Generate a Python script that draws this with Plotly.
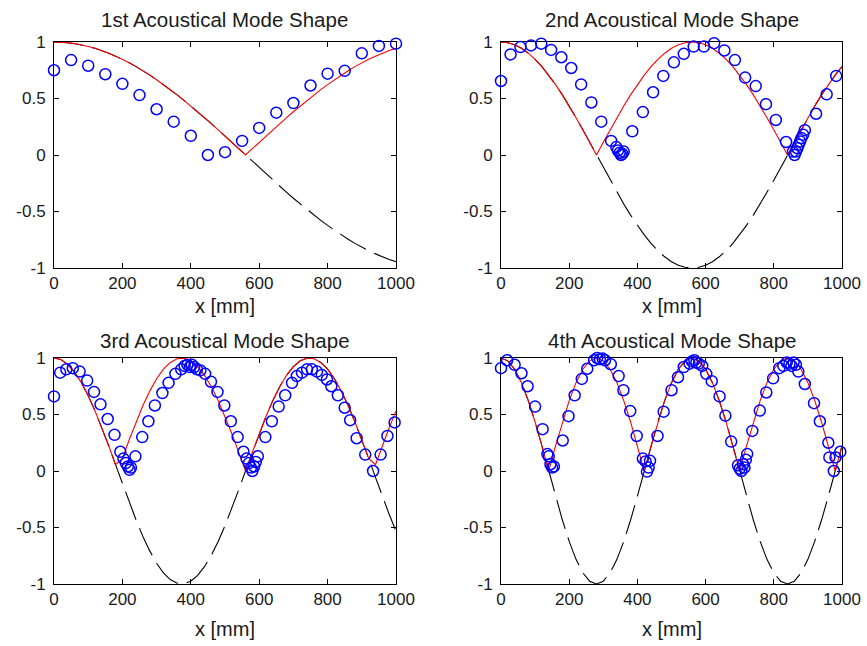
import numpy as np
import plotly.graph_objects as go

# ---------------- data ----------------
titles = ["1st Acoustical Mode Shape", "2nd Acoustical Mode Shape",
          "3rd Acoustical Mode Shape", "4th Acoustical Mode Shape"]
x_label = "x [mm]"
x_tick_vals = [0, 200, 400, 600, 800, 1000]
x_tick_text = ["0", "200", "400", "600", "800", "1000"]
y_tick_vals = [-1, -0.5, 0, 0.5, 1]
y_tick_text = ["-1", "-0.5", "0", "0.5", "1"]

# theoretical mode shapes
x_theory = [0, 20, 40, 60, 80, 100, 120, 140, 160, 180, 200, 220, 240, 260, 280, 300,
            320, 340, 360, 380, 400, 420, 440, 460, 480, 500, 520, 540, 560, 580, 600,
            620, 640, 660, 680, 700, 720, 740, 760, 780, 800, 820, 840, 860, 880, 900,
            920, 940, 960, 980, 1000]
mode1_theory = [1.000, 0.998, 0.994, 0.986, 0.975, 0.961, 0.944, 0.924, 0.901, 0.875,
                0.847, 0.816, 0.782, 0.746, 0.707, 0.666, 0.623, 0.579, 0.532, 0.484,
                0.434, 0.383, 0.330, 0.277, 0.223, 0.167, 0.112, 0.056, 0.000, -0.056,
                -0.112, -0.167, -0.223, -0.277, -0.330, -0.383, -0.434, -0.484, -0.532,
                -0.579, -0.623, -0.666, -0.707, -0.746, -0.782, -0.816, -0.847, -0.875,
                -0.901, -0.924, -0.944]
mode2_theory = [1.000, 0.994, 0.975, 0.944, 0.901, 0.847, 0.782, 0.707, 0.623, 0.532,
                0.434, 0.330, 0.223, 0.112, 0.000, -0.112, -0.223, -0.330, -0.434, -0.532,
                -0.623, -0.707, -0.782, -0.847, -0.901, -0.944, -0.975, -0.994, -1.000,
                -0.994, -0.975, -0.944, -0.901, -0.847, -0.782, -0.707, -0.623, -0.532,
                -0.434, -0.330, -0.223, -0.112, 0.000, 0.112, 0.223, 0.330, 0.434, 0.532,
                0.623, 0.707, 0.782]
mode3_theory = [1.000, 0.986, 0.944, 0.875, 0.782, 0.666, 0.532, 0.383, 0.223, 0.056,
                -0.112, -0.277, -0.434, -0.579, -0.707, -0.816, -0.901, -0.961, -0.994,
                -0.998, -0.975, -0.924, -0.847, -0.746, -0.623, -0.484, -0.330, -0.167,
                0.000, 0.167, 0.330, 0.484, 0.623, 0.746, 0.847, 0.924, 0.975, 0.998,
                0.994, 0.961, 0.901, 0.816, 0.707, 0.579, 0.434, 0.277, 0.112, -0.056,
                -0.223, -0.383, -0.532]
mode4_theory = [1.000, 0.975, 0.901, 0.782, 0.623, 0.434, 0.223, 0.000, -0.223, -0.434,
                -0.623, -0.782, -0.901, -0.975, -1.000, -0.975, -0.901, -0.782, -0.623,
                -0.434, -0.223, 0.000, 0.223, 0.434, 0.623, 0.782, 0.901, 0.975, 1.000,
                0.975, 0.901, 0.782, 0.623, 0.434, 0.223, 0.000, -0.223, -0.434, -0.623,
                -0.782, -0.901, -0.975, -1.000, -0.975, -0.901, -0.782, -0.623, -0.434,
                -0.223, 0.000, 0.223]

# measured values (blue circles)
mode1_x = [0, 50, 100, 150, 200, 250, 300, 350, 400, 450, 500, 550, 600, 650, 700,
           750, 800, 850, 900, 950, 1000]
mode1_y = [0.75, 0.84, 0.79, 0.715, 0.63, 0.53, 0.405, 0.295, 0.17, 0.0, 0.025, 0.125,
           0.24, 0.375, 0.46, 0.615, 0.72, 0.745, 0.90, 0.965, 0.985]

mode2_x = [0, 28, 57, 88, 118, 147, 177, 206, 235, 265, 294, 323, 338, 343, 348, 352,
           356, 360, 385, 416, 446, 476, 507, 536, 565, 595, 625, 655, 686, 716, 747,
           777, 806, 836, 856, 861, 865, 869, 873, 877, 881, 886, 891, 924, 955, 983]
mode2_y = [0.655, 0.89, 0.955, 0.97, 0.985, 0.93, 0.865, 0.77, 0.625, 0.465, 0.295,
           0.125, 0.07, 0.04, 0.02, 0.0, 0.01, 0.03, 0.21, 0.38, 0.555, 0.70, 0.82,
           0.895, 0.96, 0.96, 0.99, 0.925, 0.84, 0.685, 0.61, 0.45, 0.31, 0.115, 0.03,
           0.0, 0.03, 0.06, 0.09, 0.12, 0.15, 0.18, 0.22, 0.365, 0.537, 0.70]

mode3_x = [0, 18, 36, 55, 75, 97, 117, 136, 157, 177, 194, 203, 210, 216, 221, 225,
           238, 258, 276, 295, 317, 335, 355, 372, 382, 390, 397, 403, 410, 418, 428,
           442, 459, 478, 498, 517, 537, 554, 563, 570, 576, 580, 585, 590, 596, 618,
           637, 657, 676, 696, 710, 725, 740, 754, 769, 783, 798, 811, 830, 850, 866,
           885, 910, 933, 955, 975, 996]
mode3_y = [0.66, 0.87, 0.90, 0.91, 0.88, 0.80, 0.70, 0.59, 0.46, 0.32, 0.17, 0.11,
           0.07, 0.04, 0.01, 0.03, 0.13, 0.30, 0.44, 0.58, 0.69, 0.78, 0.86, 0.90, 0.93,
           0.94, 0.92, 0.94, 0.92, 0.90, 0.89, 0.86, 0.79, 0.70, 0.58, 0.44, 0.30, 0.17,
           0.11, 0.07, 0.03, 0.0, 0.04, 0.08, 0.13, 0.30, 0.44, 0.57, 0.67, 0.78, 0.84,
           0.87, 0.90, 0.90, 0.88, 0.85, 0.81, 0.75, 0.67, 0.56, 0.45, 0.29, 0.145, 0.0,
           0.145, 0.31, 0.43]

mode4_x = [0, 18, 40, 60, 78, 100, 122, 136, 140, 145, 150, 155, 181, 198, 216, 237,
           253, 273, 282, 290, 298, 305, 322, 345, 359, 379, 398, 416, 424, 428, 433,
           437, 459, 477, 500, 519, 536, 553, 560, 567, 573, 580, 590, 602, 618, 641,
           658, 675, 695, 700, 705, 710, 714, 718, 722, 737, 759, 778, 798, 816, 828,
           838, 846, 852, 858, 865, 872, 891, 918, 935, 960, 963, 976, 981, 995]
mode4_y = [0.91, 0.98, 0.94, 0.865, 0.75, 0.57, 0.37, 0.15, 0.13, 0.06, 0.03, 0.04,
           0.27, 0.485, 0.67, 0.815, 0.905, 0.98, 1.0, 0.99, 0.995, 0.98, 0.945, 0.84,
           0.715, 0.53, 0.31, 0.11, 0.085, -0.005, 0.03, 0.09, 0.31, 0.525, 0.715, 0.83,
           0.92, 0.95, 0.97, 0.98, 0.96, 0.95, 0.93, 0.86, 0.795, 0.66, 0.49, 0.26, 0.05,
           0.02, 0.0, 0.06, 0.03, 0.1, 0.15, 0.355, 0.535, 0.695, 0.82, 0.91, 0.93, 0.96,
           0.95, 0.93, 0.96, 0.94, 0.88, 0.77, 0.60, 0.44, 0.25, 0.12, 0.0, 0.12, 0.17]

theory = [mode1_theory, mode2_theory, mode3_theory, mode4_theory]
meas_x = [mode1_x, mode2_x, mode3_x, mode4_x]
meas_y = [mode1_y, mode2_y, mode3_y, mode4_y]

# ---------------- layout geometry (window pixels) ----------------
W, H = 867, 646
col_px = [(54, 396), (501, 842)]
row_px = [(42, 268), (358, 584)]
title_y_px = [19, 340]
xlabel_y_px = [306, 629]


def fx(px):
    return px / W


def fy(px):
    return 1 - px / H


FONT = "Liberation Sans, Arial, sans-serif"
TXT = "#1a1a1a"

fig = go.Figure()
layout = dict(width=W, height=H,
              margin=dict(l=0, r=0, t=0, b=0, pad=0, autoexpand=False),
              paper_bgcolor="white", plot_bgcolor="white", showlegend=False,
              font=dict(family=FONT, size=17, color=TXT), annotations=[])

for i in range(4):
    r, c = divmod(i, 2)
    xa = "x" if i == 0 else f"x{i+1}"
    ya = "y" if i == 0 else f"y{i+1}"
    shape = np.array(theory[i])
    fig.add_trace(go.Scatter(x=x_theory, y=shape, mode="lines", xaxis=xa, yaxis=ya,
                             line=dict(color="black", width=1.1, dash="30px,9px"),
                             hoverinfo="skip"))
    fig.add_trace(go.Scatter(x=x_theory, y=np.abs(shape), mode="lines", xaxis=xa, yaxis=ya,
                             line=dict(color="#ff0000", width=1.1), hoverinfo="skip"))
    fig.add_trace(go.Scatter(x=meas_x[i], y=meas_y[i], mode="markers", xaxis=xa, yaxis=ya,
                             cliponaxis=False,
                             marker=dict(symbol="circle-open", size=11, color="#0000ff",
                                         line=dict(width=1.5, color="#0000ff"))))
    x0, x1 = col_px[c]
    y0, y1 = row_px[r]
    xkey = "xaxis" if i == 0 else f"xaxis{i+1}"
    ykey = "yaxis" if i == 0 else f"yaxis{i+1}"
    axis_common = dict(showgrid=False, zeroline=False, showline=True, linecolor="black",
                       linewidth=1, mirror="allticks", ticks="inside", ticklen=5,
                       tickcolor="black", tickwidth=1, layer="below traces",
                       automargin=False,
                       tickfont=dict(family=FONT, size=17, color=TXT), fixedrange=True)
    layout[xkey] = dict(axis_common, domain=[fx(x0), fx(x1)], range=[0, 1000],
                        anchor=ya, tickmode="array", tickvals=x_tick_vals,
                        ticktext=x_tick_text)
    layout[ykey] = dict(axis_common, domain=[fy(y1), fy(y0)], range=[-1, 1],
                        anchor=xa, tickmode="array", tickvals=y_tick_vals,
                        ticktext=y_tick_text, ticklabelstandoff=4)
    layout["annotations"].append(dict(text=titles[i], x=fx((x0 + x1) / 2),
                                      y=fy(title_y_px[r]), xref="paper", yref="paper",
                                      xanchor="center", yanchor="middle", showarrow=False,
                                      font=dict(family=FONT, size=20.5, color=TXT)))
    layout["annotations"].append(dict(text=x_label, x=fx((x0 + x1) / 2),
                                      y=fy(xlabel_y_px[r]), xref="paper", yref="paper",
                                      xanchor="center", yanchor="middle", showarrow=False,
                                      font=dict(family=FONT, size=20, color=TXT)))

fig.update_layout(**layout)
fig.write_html("out.html")
